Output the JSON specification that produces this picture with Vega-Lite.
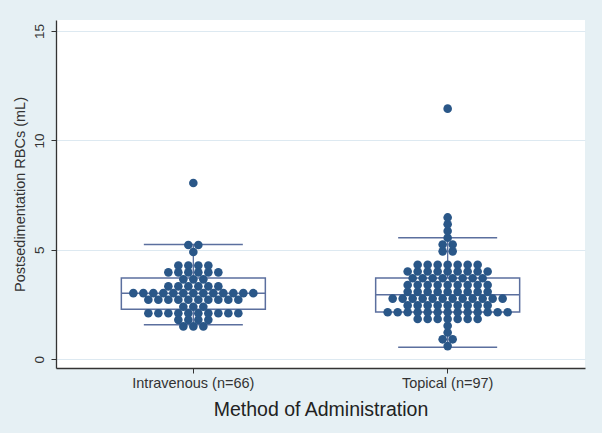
{
  "$schema": "https://vega.github.io/schema/vega-lite/v6.json",
  "width": 529,
  "height": 348,
  "autosize": {"type": "none"},
  "padding": {"left": 56, "top": 20, "right": 17, "bottom": 65},
  "background": "#e6f0f4",
  "config": {"view": {"fill": "white", "stroke": null}, "font": "Liberation Sans"},
  "datasets": {
    "box": [
      {"g": "Intravenous (n=66)", "lower": 1.58, "q1": 2.28, "median": 3.01, "q3": 3.71, "upper": 5.24},
      {"g": "Topical (n=97)", "lower": 0.55, "q1": 2.16, "median": 2.95, "q3": 3.71, "upper": 5.55}
    ],
    "dots": [
      {"g": "Intravenous (n=66)", "v": 1.5}, {"g": "Intravenous (n=66)", "v": 1.5}, {"g": "Intravenous (n=66)", "v": 1.5},
      {"g": "Intravenous (n=66)", "v": 1.8}, {"g": "Intravenous (n=66)", "v": 1.8}, {"g": "Intravenous (n=66)", "v": 1.8}, {"g": "Intravenous (n=66)", "v": 1.8},
      {"g": "Intravenous (n=66)", "v": 2.1}, {"g": "Intravenous (n=66)", "v": 2.1}, {"g": "Intravenous (n=66)", "v": 2.1}, {"g": "Intravenous (n=66)", "v": 2.1}, {"g": "Intravenous (n=66)", "v": 2.1},
      {"g": "Intravenous (n=66)", "v": 2.1}, {"g": "Intravenous (n=66)", "v": 2.1}, {"g": "Intravenous (n=66)", "v": 2.1}, {"g": "Intravenous (n=66)", "v": 2.1}, {"g": "Intravenous (n=66)", "v": 2.1},
      {"g": "Intravenous (n=66)", "v": 2.4}, {"g": "Intravenous (n=66)", "v": 2.4}, {"g": "Intravenous (n=66)", "v": 2.4},
      {"g": "Intravenous (n=66)", "v": 2.72}, {"g": "Intravenous (n=66)", "v": 2.72}, {"g": "Intravenous (n=66)", "v": 2.72}, {"g": "Intravenous (n=66)", "v": 2.72}, {"g": "Intravenous (n=66)", "v": 2.72},
      {"g": "Intravenous (n=66)", "v": 2.72}, {"g": "Intravenous (n=66)", "v": 2.72}, {"g": "Intravenous (n=66)", "v": 2.72}, {"g": "Intravenous (n=66)", "v": 2.72}, {"g": "Intravenous (n=66)", "v": 2.72},
      {"g": "Intravenous (n=66)", "v": 3.02}, {"g": "Intravenous (n=66)", "v": 3.02}, {"g": "Intravenous (n=66)", "v": 3.02}, {"g": "Intravenous (n=66)", "v": 3.02}, {"g": "Intravenous (n=66)", "v": 3.02},
      {"g": "Intravenous (n=66)", "v": 3.02}, {"g": "Intravenous (n=66)", "v": 3.02}, {"g": "Intravenous (n=66)", "v": 3.02}, {"g": "Intravenous (n=66)", "v": 3.02}, {"g": "Intravenous (n=66)", "v": 3.02},
      {"g": "Intravenous (n=66)", "v": 3.02}, {"g": "Intravenous (n=66)", "v": 3.02}, {"g": "Intravenous (n=66)", "v": 3.02},
      {"g": "Intravenous (n=66)", "v": 3.33}, {"g": "Intravenous (n=66)", "v": 3.33}, {"g": "Intravenous (n=66)", "v": 3.33}, {"g": "Intravenous (n=66)", "v": 3.33}, {"g": "Intravenous (n=66)", "v": 3.33}, {"g": "Intravenous (n=66)", "v": 3.33},
      {"g": "Intravenous (n=66)", "v": 3.65}, {"g": "Intravenous (n=66)", "v": 3.65}, {"g": "Intravenous (n=66)", "v": 3.65},
      {"g": "Intravenous (n=66)", "v": 3.97}, {"g": "Intravenous (n=66)", "v": 3.97}, {"g": "Intravenous (n=66)", "v": 3.97}, {"g": "Intravenous (n=66)", "v": 3.97}, {"g": "Intravenous (n=66)", "v": 3.97}, {"g": "Intravenous (n=66)", "v": 3.97},
      {"g": "Intravenous (n=66)", "v": 4.28}, {"g": "Intravenous (n=66)", "v": 4.28}, {"g": "Intravenous (n=66)", "v": 4.28}, {"g": "Intravenous (n=66)", "v": 4.28},
      {"g": "Intravenous (n=66)", "v": 4.9},
      {"g": "Intravenous (n=66)", "v": 5.22}, {"g": "Intravenous (n=66)", "v": 5.22},
      {"g": "Intravenous (n=66)", "v": 8.05},
      {"g": "Topical (n=97)", "v": 0.6},
      {"g": "Topical (n=97)", "v": 0.91}, {"g": "Topical (n=97)", "v": 0.91},
      {"g": "Topical (n=97)", "v": 1.22},
      {"g": "Topical (n=97)", "v": 1.53},
      {"g": "Topical (n=97)", "v": 1.84}, {"g": "Topical (n=97)", "v": 1.84}, {"g": "Topical (n=97)", "v": 1.84}, {"g": "Topical (n=97)", "v": 1.84}, {"g": "Topical (n=97)", "v": 1.84}, {"g": "Topical (n=97)", "v": 1.84}, {"g": "Topical (n=97)", "v": 1.84},
      {"g": "Topical (n=97)", "v": 2.15}, {"g": "Topical (n=97)", "v": 2.15}, {"g": "Topical (n=97)", "v": 2.15}, {"g": "Topical (n=97)", "v": 2.15}, {"g": "Topical (n=97)", "v": 2.15},
      {"g": "Topical (n=97)", "v": 2.15}, {"g": "Topical (n=97)", "v": 2.15}, {"g": "Topical (n=97)", "v": 2.15}, {"g": "Topical (n=97)", "v": 2.15}, {"g": "Topical (n=97)", "v": 2.15},
      {"g": "Topical (n=97)", "v": 2.15}, {"g": "Topical (n=97)", "v": 2.15}, {"g": "Topical (n=97)", "v": 2.15},
      {"g": "Topical (n=97)", "v": 2.46}, {"g": "Topical (n=97)", "v": 2.46}, {"g": "Topical (n=97)", "v": 2.46}, {"g": "Topical (n=97)", "v": 2.46}, {"g": "Topical (n=97)", "v": 2.46},
      {"g": "Topical (n=97)", "v": 2.46}, {"g": "Topical (n=97)", "v": 2.46}, {"g": "Topical (n=97)", "v": 2.46}, {"g": "Topical (n=97)", "v": 2.46},
      {"g": "Topical (n=97)", "v": 2.77}, {"g": "Topical (n=97)", "v": 2.77}, {"g": "Topical (n=97)", "v": 2.77}, {"g": "Topical (n=97)", "v": 2.77}, {"g": "Topical (n=97)", "v": 2.77}, {"g": "Topical (n=97)", "v": 2.77},
      {"g": "Topical (n=97)", "v": 2.77}, {"g": "Topical (n=97)", "v": 2.77}, {"g": "Topical (n=97)", "v": 2.77}, {"g": "Topical (n=97)", "v": 2.77}, {"g": "Topical (n=97)", "v": 2.77}, {"g": "Topical (n=97)", "v": 2.77},
      {"g": "Topical (n=97)", "v": 3.08}, {"g": "Topical (n=97)", "v": 3.08}, {"g": "Topical (n=97)", "v": 3.08}, {"g": "Topical (n=97)", "v": 3.08}, {"g": "Topical (n=97)", "v": 3.08},
      {"g": "Topical (n=97)", "v": 3.08}, {"g": "Topical (n=97)", "v": 3.08}, {"g": "Topical (n=97)", "v": 3.08}, {"g": "Topical (n=97)", "v": 3.08},
      {"g": "Topical (n=97)", "v": 3.39}, {"g": "Topical (n=97)", "v": 3.39}, {"g": "Topical (n=97)", "v": 3.39}, {"g": "Topical (n=97)", "v": 3.39}, {"g": "Topical (n=97)", "v": 3.39},
      {"g": "Topical (n=97)", "v": 3.39}, {"g": "Topical (n=97)", "v": 3.39}, {"g": "Topical (n=97)", "v": 3.39}, {"g": "Topical (n=97)", "v": 3.39},
      {"g": "Topical (n=97)", "v": 3.7}, {"g": "Topical (n=97)", "v": 3.7}, {"g": "Topical (n=97)", "v": 3.7}, {"g": "Topical (n=97)", "v": 3.7},
      {"g": "Topical (n=97)", "v": 3.7}, {"g": "Topical (n=97)", "v": 3.7}, {"g": "Topical (n=97)", "v": 3.7}, {"g": "Topical (n=97)", "v": 3.7},
      {"g": "Topical (n=97)", "v": 4.01}, {"g": "Topical (n=97)", "v": 4.01}, {"g": "Topical (n=97)", "v": 4.01}, {"g": "Topical (n=97)", "v": 4.01}, {"g": "Topical (n=97)", "v": 4.01},
      {"g": "Topical (n=97)", "v": 4.01}, {"g": "Topical (n=97)", "v": 4.01}, {"g": "Topical (n=97)", "v": 4.01}, {"g": "Topical (n=97)", "v": 4.01},
      {"g": "Topical (n=97)", "v": 4.32}, {"g": "Topical (n=97)", "v": 4.32}, {"g": "Topical (n=97)", "v": 4.32}, {"g": "Topical (n=97)", "v": 4.32}, {"g": "Topical (n=97)", "v": 4.32}, {"g": "Topical (n=97)", "v": 4.32}, {"g": "Topical (n=97)", "v": 4.32},
      {"g": "Topical (n=97)", "v": 4.93}, {"g": "Topical (n=97)", "v": 4.93},
      {"g": "Topical (n=97)", "v": 5.24}, {"g": "Topical (n=97)", "v": 5.24},
      {"g": "Topical (n=97)", "v": 5.55},
      {"g": "Topical (n=97)", "v": 5.86},
      {"g": "Topical (n=97)", "v": 6.17},
      {"g": "Topical (n=97)", "v": 6.48},
      {"g": "Topical (n=97)", "v": 11.45}
    ]
  },
  "encoding": {
    "x": {
      "field": "g",
      "type": "nominal",
      "sort": ["Intravenous (n=66)", "Topical (n=97)"],
      "scale": {"paddingInner": 0, "paddingOuter": 0.04},
      "title": "Method of Administration",
      "axis": {
        "labelAngle": 0,
        "labelFontSize": 14.5,
        "labelColor": "#333333",
        "labelPadding": 3,
        "tickSize": 5,
        "tickColor": "#333333",
        "domainColor": "#333333",
        "domainWidth": 1.3,
        "grid": false,
        "titleFontSize": 19.5,
        "titleFontWeight": "normal",
        "titleColor": "#222222",
        "titlePadding": 11
      }
    }
  },
  "layer": [
    {
      "data": {"name": "box"},
      "mark": {"type": "rule", "color": "#5b6f9e", "strokeWidth": 1.3},
      "encoding": {
        "y": {
          "field": "lower",
          "type": "quantitative",
          "scale": {"domain": [-0.4, 15.5], "nice": false, "zero": false},
          "title": "Postsedimentation RBCs (mL)",
          "axis": {
            "values": [0, 5, 10, 15],
            "grid": true,
            "gridColor": "#dde9f1",
            "gridWidth": 1.2,
            "domainColor": "#333333",
            "domainWidth": 1.3,
            "tickColor": "#333333",
            "tickSize": 5,
            "labelAngle": -90,
            "labelAlign": "center",
            "labelBaseline": "bottom",
            "labelPadding": 5,
            "labelFontSize": 13.5,
            "labelColor": "#333333",
            "titleFontSize": 14.5,
            "titleFontWeight": "normal",
            "titleColor": "#333333",
            "titleX": -36,
            "titleBaseline": "middle"
          }
        },
        "y2": {"field": "upper"}
      }
    },
    {
      "data": {"name": "box"},
      "mark": {"type": "bar", "width": 144, "fill": "white", "stroke": "#5b6f9e", "strokeWidth": 1.5},
      "encoding": {
        "y": {"field": "q1", "type": "quantitative"},
        "y2": {"field": "q3"}
      }
    },
    {
      "data": {"name": "box"},
      "mark": {"type": "tick", "size": 144, "thickness": 1.5, "color": "#5b6f9e", "opacity": 1},
      "encoding": {"y": {"field": "median", "type": "quantitative"}}
    },
    {
      "data": {"name": "box"},
      "mark": {"type": "tick", "size": 99, "thickness": 1.5, "color": "#5b6f9e", "opacity": 1},
      "encoding": {"y": {"field": "lower", "type": "quantitative"}}
    },
    {
      "data": {"name": "box"},
      "mark": {"type": "tick", "size": 99, "thickness": 1.5, "color": "#5b6f9e", "opacity": 1},
      "encoding": {"y": {"field": "upper", "type": "quantitative"}}
    },
    {
      "data": {"name": "dots"},
      "transform": [
        {"window": [{"op": "row_number", "as": "rk"}], "groupby": ["g", "v"]},
        {"joinaggregate": [{"op": "count", "as": "n"}], "groupby": ["g", "v"]},
        {"calculate": "datum.rk - (datum.n + 1) / 2", "as": "slot"}
      ],
      "mark": {"type": "circle", "size": 74, "color": "#2a5788", "opacity": 1},
      "encoding": {
        "y": {"field": "v", "type": "quantitative"},
        "xOffset": {"field": "slot", "type": "quantitative", "scale": {"domain": [-12.72, 12.72]}}
      }
    }
  ]
}
